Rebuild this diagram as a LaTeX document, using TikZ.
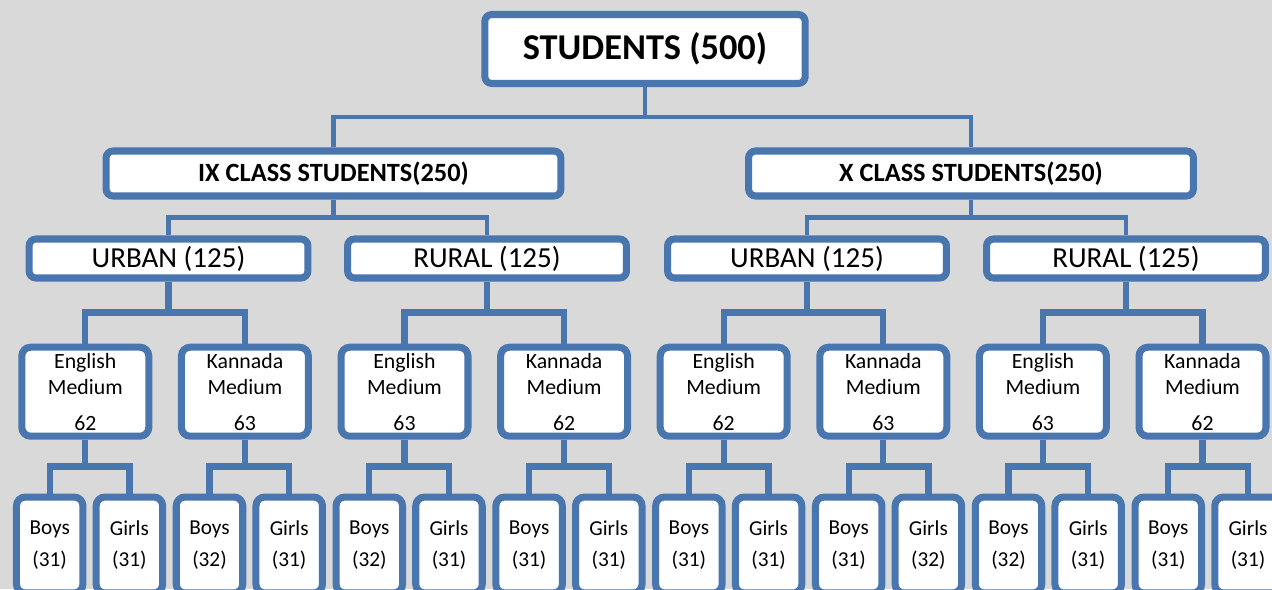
\documentclass[tikz,border=0pt]{standalone}
\usepackage{fontspec}
\setmainfont{Carlito}
\usetikzlibrary{calc,shadows}
\definecolor{boxblue}{HTML}{4A76AF}
\definecolor{paper}{HTML}{D9D9D9}
\tikzset{
    box/.style={draw=boxblue, line width=4pt, fill=white, rounded corners=4pt,
        inner sep=0pt, align=center,
        drop shadow={opacity=0.22, shadow xshift=1.2pt, shadow yshift=-1.2pt}},
    rootbox/.style={box, minimum width=6.41cm, minimum height=1.38cm,
        font=\bfseries\fontsize{20.7}{24}\selectfont},
    classbox/.style={box, minimum height=0.9cm,
        font=\bfseries\fontsize{15}{17}\selectfont},
    areabox/.style={box, minimum width=5.58cm, minimum height=0.78cm,
        font=\fontsize{16.5}{19}\selectfont},
    medbox/.style={box, rounded corners=5pt, minimum width=2.54cm, minimum height=1.78cm,
        font=\fontsize{12.4}{14.8}\selectfont},
    leafbox/.style={box, rounded corners=5pt, minimum width=1.33cm, minimum height=1.92cm,
        font=\fontsize{12.1}{14}\selectfont},
    thinlink/.style={draw=boxblue, line width=2.45pt},
    thicklink/.style={draw=boxblue, line width=3.6pt}
}
% parent, first child, second child
\newcommand{\treelink}[4][thinlink]{%
    \coordinate (bus) at ($(#2.south)!.5!(#3.north)$);
    \draw[#1] (#2.south) -- (#2.south |- bus);
    \draw[#1] (#3.north) |- (bus) -| (#4.north);
}
\begin{document}
\begin{tikzpicture}[x=0.02cm, y=-0.02cm]
    % page
    \clip (0,0) rectangle (1272,589);
    \fill[paper] (0,0) rectangle (1272,589);
    % top
    \node[rootbox] (root) at (645,49) {STUDENTS (500)};
    % classes
    \node[classbox, minimum width=9.1cm] (ix) at (333.5,173.5) {IX CLASS STUDENTS(250)};
    \node[classbox, minimum width=8.9cm] (x) at (971,173.5) {X CLASS STUDENTS(250)};
    \treelink{root}{ix}{x}
    % urban / rural
    \node[areabox] (ixu) at (168.5,258.5) {URBAN (125)};
    \node[areabox] (ixr) at (487,258.5) {RURAL (125)};
    \node[areabox] (xu) at (807,258.5) {URBAN (125)};
    \node[areabox] (xr) at (1126,258.5) {RURAL (125)};
    \treelink{ix}{ixu}{ixr}
    \treelink{x}{xu}{xr}
    % medium
    \foreach \i/\lang/\num in {1/English/62, 2/Kannada/63, 3/English/63, 4/Kannada/62,
                               5/English/62, 6/Kannada/63, 7/English/63, 8/Kannada/62}
        \node[medbox] (m\i) at ({85.3+159.6*(\i-1)},391.7) {\lang\\Medium\\[5.5pt]\num};
    \treelink[thicklink]{ixu}{m1}{m2}
    \treelink[thicklink]{ixr}{m3}{m4}
    \treelink[thicklink]{xu}{m5}{m6}
    \treelink[thicklink]{xr}{m7}{m8}
    % boys and girls
    \foreach \i/\b/\g in {1/31/31, 2/32/31, 3/32/31, 4/31/31,
                          5/31/31, 6/31/32, 7/32/31, 8/31/31} {
        \node[leafbox] (b\i) at ({49.7+159.8*(\i-1)},545) {Boys\\[4pt](\b)};
        \node[leafbox] (g\i) at ({129.4+159.8*(\i-1)},545) {Girls\\[4pt](\g)};
        \treelink[thicklink]{m\i}{b\i}{g\i}
    }
\end{tikzpicture}
\end{document}
